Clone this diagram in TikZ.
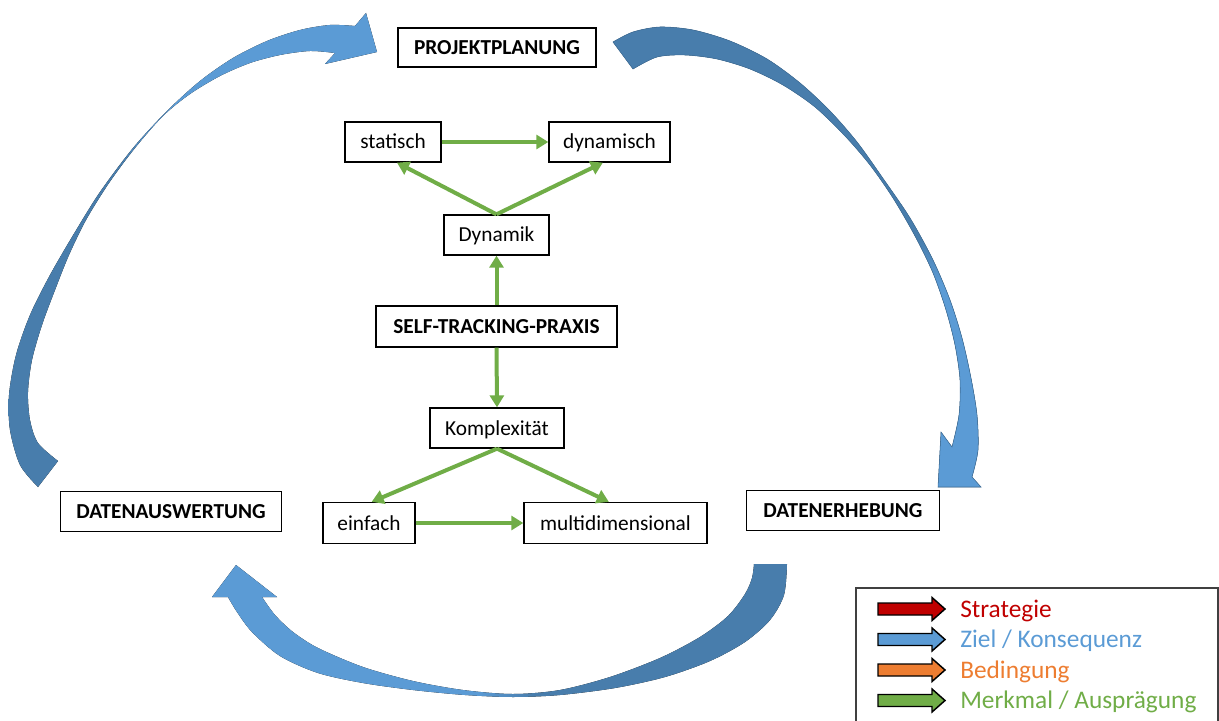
\documentclass[tikz,border=0pt]{standalone}
\usepackage{fontspec}
\setmainfont{Carlito}
\usetikzlibrary{arrows.meta}
\definecolor{bdark}{RGB}{72,125,172}
\definecolor{blight}{RGB}{91,155,213}
\definecolor{bline}{RGB}{65,113,156}
\definecolor{mgreen}{RGB}{112,173,71}
\definecolor{mred}{RGB}{192,0,0}
\definecolor{morange}{RGB}{237,125,49}
\pgfdeclareverticalshading{shadeA}{100bp}{color(0bp)=(bdark); color(59bp)=(bdark); color(64bp)=(blight); color(100bp)=(blight)}
\pgfdeclareverticalshading{shadeB}{100bp}{color(0bp)=(blight); color(47bp)=(blight); color(52bp)=(bdark); color(100bp)=(bdark)}
\pgfdeclarehorizontalshading{shadeC}{100bp}{color(0bp)=(blight); color(48bp)=(blight); color(53bp)=(bdark); color(100bp)=(bdark)}
\tikzset{
  box/.style={draw=black, line width=1pt, fill=white, inner sep=0pt, minimum height=30pt,
     text height=13pt, text depth=2.5pt, font=\fontsize{16}{19}\selectfont},
  boldbox/.style={box, font=\fontsize{16}{19}\selectfont\bfseries},
  garrow/.style={draw=mgreen, line width=3pt, -{Triangle[length=9pt,width=10.5pt]}},
  legtext/.style={anchor=base west, inner sep=0pt, font=\fontsize{19}{22}\selectfont},
  legarrow/.pic={\filldraw[fill=#1, draw=black, line width=1.1pt, line join=miter]
     (0,-6) -- (54,-6) -- (54,-11.5) -- (67,0) -- (54,11.5) -- (54,6) -- (0,6) -- cycle;},
  edge/.style={smooth, tension=0.5}
}
\begin{document}
\begin{tikzpicture}[x=0.75pt,y=-0.75pt]
\useasboundingbox (0,0) rectangle (1219,720);

% blue cycle arrows
% DATENAUSWERTUNG -> PROJEKTPLANUNG
\fill[shading=shadeA] plot[edge] coordinates {(38,487) (20,465) (10,430) (9,395) (16,355) (30,315) (50,275) (75,232) (100,192) (133,148) (167,111) (200,81) (233,58) (267,41) (300,30) (330,25) (355,26)} -- (366,13) -- (377,52) -- (325,64) -- plot[edge] coordinates {(335,53) (310,51) (280,55) (250,63) (220,76) (190,94) (163,116) (135,148) (109,183) (86,220) (69,255) (55,290) (42,325) (32,360) (28,392) (30,420) (38,443) (58,461)} -- cycle;

% PROJEKTPLANUNG -> DATENERHEBUNG
\filldraw[shading=shadeB, draw=bline, line width=0.4pt] plot[edge] coordinates {(613,42) (633,32) (660,27) (693,30) (730,41) (767,59) (800,83) (830,111) (857,142) (882,177) (910,218) (933,260) (950,300) (962,338) (971,378) (977,415) (978,450) (972,477)} -- (981,487) -- (938,487) -- (941,432) -- plot[edge] coordinates {(952,447) (959,415) (960,380) (955,345) (946,310) (933,273) (915,236) (893,198) (870,165) (845,136) (815,107) (783,85) (750,69) (717,59) (685,55) (657,57) (633,69)} -- cycle;

% DATENERHEBUNG -> DATENAUSWERTUNG
\fill[shading=shadeC] plot[edge] coordinates {(787,564) (784,595) (770,620) (745,642) (710,661) (665,677) (615,688) (560,695) (513,697) (465,695) (413,690) (363,683) (318,673) (280,656) (252,632) (237,612) (228,597)} -- (212,597) -- (236,565) -- (277,597) -- plot[edge] coordinates {(262,597) (275,615) (293,632) (318,648) (363,667) (413,681) (463,690) (513,694) (560,690) (610,677) (660,658) (700,637) (728,616) (745,594) (752,578) (754,564)} -- cycle;

% nodes
\node[boldbox, minimum width=148.5pt, minimum height=29.25pt] (proj) at (497,47.5) {PROJEKTPLANUNG};
\node[box, minimum width=72pt] (stat) at (393,142) {statisch};
\node[box, minimum width=90.75pt] (dynm) at (609.5,142) {dynamisch};
\node[box, minimum width=78.75pt] (dyn) at (496.5,235) {Dynamik};
\node[boldbox, minimum width=180.75pt, minimum height=30.75pt] (stp) at (496.5,326.5) {SELF-TRACKING-PRAXIS};
\node[box, minimum width=100.5pt] (kom) at (497,428) {Komplexität};
\node[box, minimum width=69pt, minimum height=30.75pt] (einf) at (369,523) {einfach};
\node[box, minimum width=137.25pt, minimum height=30.75pt] (multi) at (615.5,523) {multidimensional};
\node[boldbox, minimum width=165.75pt] (daus) at (171,511.5) {DATENAUSWERTUNG};
\node[boldbox, minimum width=144.75pt] (derh) at (843,510.5) {DATENERHEBUNG};

% green connectors
\draw[garrow] (stat.east) -- (dynm.west);
\draw[garrow] (dyn.north) -- ([xshift=3pt]stat.south);
\draw[garrow] (dyn.north) -- ([xshift=-5pt]dynm.south);
\draw[garrow] (stp.north) -- (dyn.south);
\draw[garrow] (stp.south) -- (kom.north);
\draw[garrow] (kom.south) -- ([xshift=2pt]einf.north);
\draw[garrow] (kom.south) -- ([xshift=-5pt]multi.north);
\draw[garrow] (einf.east) -- (multi.west);

% legend
\draw[draw=black!75, line width=0.8pt] (856,588) rectangle (1218,740);
\pic at (878,609) {legarrow=mred};
\pic at (878,639.5) {legarrow=blight};
\pic at (878,670) {legarrow=morange};
\pic at (878,700.5) {legarrow=mgreen};
\node[legtext, text=mred] (l1) at (960,617) {Strategie};
\node[legtext, text=blight] (l2) at (960,647.5) {Ziel / Konsequenz};
\node[legtext, text=morange] (l3) at (960,678) {Bedingung};
\node[legtext, text=mgreen] (l4) at (960,708.5) {Merkmal / Ausprägung};
\end{tikzpicture}
\end{document}
